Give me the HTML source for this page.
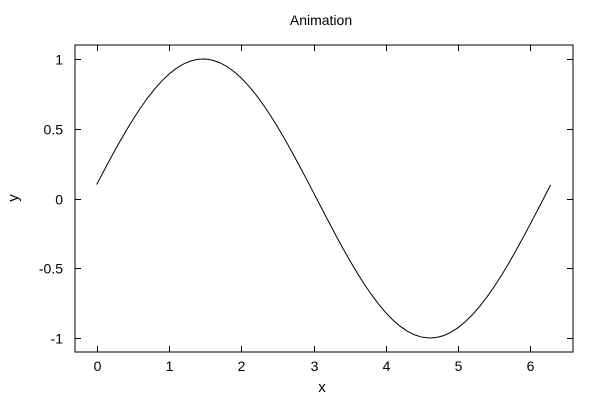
<!DOCTYPE html>
<html><head><meta charset="utf-8"><style>
body{margin:0;background:#fff;}
svg{display:block;font-family:"Liberation Sans",sans-serif;}
</style></head><body>
<svg id="chart" width="600" height="400">
<text x="321" y="25" text-anchor="middle" font-size="14">Animation</text>
<text x="322" y="392" text-anchor="middle" font-size="15">x</text>
<text x="18" y="198" text-anchor="middle" font-size="15" transform="rotate(-90 18 198)">y</text>
<g id="axes"></g>
<polyline id="curve" fill="none" stroke="#000" stroke-width="1"/>
</svg>
<script>
const xValues=[0,0.1,0.2,0.3,0.4,0.5,0.6,0.7,0.8,0.9,1.0,1.1,1.2,1.3,1.4,1.5,1.6,1.7,1.8,1.9,2.0,2.1,2.2,2.3,2.4,2.5,2.6,2.7,2.8,2.9,3.0,3.1,3.2,3.3,3.4,3.5,3.6,3.7,3.8,3.9,4.0,4.1,4.2,4.3,4.4,4.5,4.6,4.7,4.8,4.9,5.0,5.1,5.2,5.3,5.4,5.5,5.6,5.7,5.8,5.9,6.0,6.1,6.2,6.28];
const yValues=[0.0998,0.1987,0.2955,0.3894,0.4794,0.5646,0.6442,0.7174,0.7833,0.8415,0.8912,0.9320,0.9636,0.9854,0.9975,0.9996,0.9917,0.9738,0.9463,0.9093,0.8632,0.8085,0.7457,0.6755,0.5985,0.5155,0.4274,0.3350,0.2392,0.1411,0.0416,-0.0584,-0.1577,-0.2555,-0.3508,-0.4425,-0.5298,-0.6119,-0.6878,-0.7568,-0.8183,-0.8716,-0.9162,-0.9516,-0.9775,-0.9937,-0.9999,-0.9962,-0.9825,-0.9589,-0.9258,-0.8835,-0.8323,-0.7728,-0.7055,-0.6313,-0.5507,-0.4646,-0.3739,-0.2794,-0.1822,-0.0831,0.0168,0.0966];
const xTicks=[0,1,2,3,4,5,6];
const yTicks=[1,0.5,0,-0.5,-1];
const yTickLabels=["1","0.5","0","-0.5","-1"];

const L=75,R=573,T=45,B=352;
const xMin=-0.3,xMax=6.59,yMin=-1.1,yMax=1.1;
const sx=v=>L+(v-xMin)/(xMax-xMin)*(R-L);
const sy=v=>B-(v-yMin)/(yMax-yMin)*(B-T);
const NS="http://www.w3.org/2000/svg";
const axes=document.getElementById('axes');
function mk(tag,attrs){const e=document.createElementNS(NS,tag);for(const k in attrs)e.setAttribute(k,attrs[k]);axes.appendChild(e);return e;}
const frame=mk('rect',{x:L,y:T,width:R-L,height:B-T,fill:'none',stroke:'#000','stroke-width':1});


xTicks.forEach(v=>{
  const x=Math.round(sx(v))+0.5;
  const t1=mk('line',{x1:x,x2:x,y1:B,y2:B-6,stroke:'#000'});
  
  
  const t2=mk('line',{x1:x,x2:x,y1:T,y2:T+6,stroke:'#000'});
  
  
  const lb=mk('text',{x:x,y:B+19,'text-anchor':'middle','font-size':14});
  lb.textContent=String(v);
  
  
});
yTicks.forEach((v,i)=>{
  const y=Math.round(sy(v))+0.5;
  const t1=mk('line',{x1:L,x2:L+6,y1:y,y2:y,stroke:'#000'});
  
  
  const t2=mk('line',{x1:R,x2:R-6,y1:y,y2:y,stroke:'#000'});
  
  
  const lb=mk('text',{x:L-12,y:y+5,'text-anchor':'end','font-size':14});
  lb.textContent=yTickLabels[i];
  
  
});
document.getElementById('curve').setAttribute('points',xValues.map((x,i)=>sx(x).toFixed(2)+','+sy(yValues[i]).toFixed(2)).join(' '));
</script>
</body></html>
